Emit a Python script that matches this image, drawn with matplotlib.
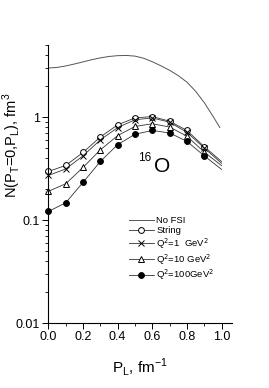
import matplotlib
matplotlib.use("Agg")
import matplotlib.pyplot as plt
from matplotlib.lines import Line2D
from matplotlib.ticker import FixedLocator, NullFormatter, MultipleLocator
import numpy as np

plt.rcParams["font.family"] = ["Liberation Sans", "DejaVu Sans"]

# ── Data ──────────────────────────────────────────────────────────────────────
p_l = [0.0, 0.1, 0.2, 0.3, 0.4, 0.5, 0.6, 0.7, 0.8, 0.9, 1.0]

string   = [0.296, 0.339, 0.453, 0.64, 0.84, 0.98, 1.01, 0.91, 0.74, 0.515, 0.37]
q2_1     = [0.271, 0.313, 0.42, 0.60, 0.79, 0.94, 0.98, 0.89, 0.71, 0.50, 0.355]
q2_10    = [0.19, 0.225, 0.324, 0.48, 0.66, 0.81, 0.86, 0.80, 0.65, 0.457, 0.337]
q2_100   = [0.121, 0.147, 0.232, 0.37, 0.54, 0.68, 0.74, 0.70, 0.58, 0.42, 0.31]

# the no-FSI curve has no markers, read at finer steps
p_l_fine = [0.0, 0.05, 0.1, 0.15, 0.2, 0.25, 0.3, 0.35, 0.4, 0.45, 0.5,
            0.55, 0.6, 0.65, 0.7, 0.75, 0.8, 0.85, 0.9, 0.95, 0.99]
no_fsi   = [2.99, 3.03, 3.13, 3.27, 3.43, 3.60, 3.75, 3.87, 3.94, 3.96, 3.90,
            3.72, 3.44, 3.14, 2.84, 2.52, 2.18, 1.78, 1.38, 1.02, 0.79]

labels = ["No FSI", "String", r"Q$^2$=1  GeV$^2$", r"Q$^2$=10 GeV$^2$",
          r"Q$^2$=100GeV$^2$"]

# ── Figure ────────────────────────────────────────────────────────────────────
fig = plt.figure(figsize=(2.69, 3.88), dpi=100)
ax = fig.add_axes([0.18, 0.1675, 0.681, 0.7165])

LC = "#333333"
MARK = list(range(10))  # markers at 0.0 .. 0.9

ax.plot(p_l_fine, no_fsi, color="#555555", lw=0.7)
ax.plot(p_l, string, color=LC, lw=0.6, marker="o", ms=4.2, mfc="white",
        mec="black", mew=0.7, markevery=MARK, clip_on=False)
ax.plot(p_l, q2_1, color=LC, lw=0.6, marker="x", ms=4.2, mec="black",
        mew=0.7, markevery=MARK, clip_on=False)
ax.plot(p_l, q2_10, color=LC, lw=0.6, marker="^", ms=4.2, mfc="white",
        mec="black", mew=0.7, markevery=MARK, clip_on=False)
ax.plot(p_l, q2_100, color=LC, lw=0.6, marker="o", ms=4.2, mfc="black",
        mec="black", mew=0.7, markevery=MARK, clip_on=False)

# axes
ax.set_yscale("log")
ax.set_xlim(0, 1.058)
ax.set_ylim(0.01, 5.0)
ax.set_yticks([0.01, 0.1, 1])
ax.set_yticklabels(["0.01", "0.1", "1"])
minor = [m * 10.0 ** e for e in (-2, -1, 0) for m in range(2, 10)]
ax.yaxis.set_minor_locator(FixedLocator([v for v in minor if v <= 5]))
ax.yaxis.set_minor_formatter(NullFormatter())
ax.set_xticks(np.arange(0, 1.01, 0.2))
ax.set_xticklabels(["0.0", "0.2", "0.4", "0.6", "0.8", "1.0"])
ax.xaxis.set_minor_locator(MultipleLocator(0.1))
ax.tick_params(which="major", length=4, width=0.7, labelsize=9, pad=2,
               direction="out")
ax.tick_params(which="minor", length=2, width=0.6, direction="out")
for s in ("top", "right"):
    ax.spines[s].set_visible(False)
for s in ("left", "bottom"):
    ax.spines[s].set_linewidth(0.8)

# y label sits above the axes centre in the reference
fig.text(0.045, 1 - 145 / 388,
         r"N(P$_\mathregular{T}$=0,P$_\mathregular{L}$), fm$^\mathregular{3}$",
         fontsize=10.5, rotation=90, ha="center", va="center")
ax.set_xlabel(r"P$_\mathregular{L}$, fm$^\mathregular{-1}$", fontsize=11,
              labelpad=9)

# nucleus label
ax.text(0.655, 0.33, "O", fontsize=15, ha="center", va="center")
ax.text(0.555, 0.40, "16", fontsize=8.5, ha="center", va="center")

# legend
handles = [
    Line2D([], [], color="#555555", lw=0.7),
    Line2D([], [], color=LC, lw=0.6, marker="o", ms=4.2, mfc="white",
           mec="black", mew=0.7),
    Line2D([], [], color=LC, lw=0.6, marker="x", ms=4.2, mec="black", mew=0.7),
    Line2D([], [], color=LC, lw=0.6, marker="^", ms=4.2, mfc="white",
           mec="black", mew=0.7),
    Line2D([], [], color=LC, lw=0.6, marker="o", ms=4.2, mfc="black",
           mec="black", mew=0.7),
]
ax.legend(handles, labels, loc="upper left", bbox_to_anchor=(0.44, 0.385),
          frameon=False, fontsize=6.8, handlelength=2.6, handletextpad=0.3,
          labelspacing=0.12, borderpad=0, borderaxespad=0)

fig.savefig("out.png", dpi=100)
